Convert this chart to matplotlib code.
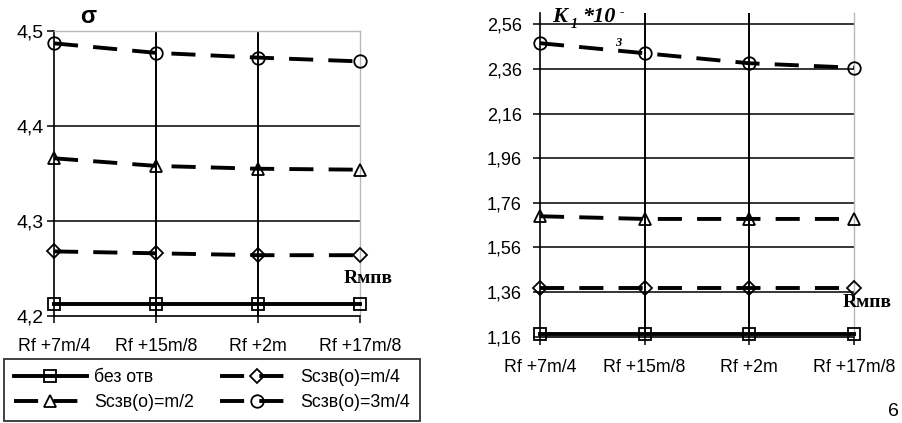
import matplotlib
matplotlib.use('Agg')
import matplotlib.pyplot as plt

# ---------------- data ----------------
categories = ['Rf +7m/4', 'Rf +15m/8', 'Rf +2m', 'Rf +17m/8']
series_labels = ['без отв', 'Sсзв(о)=m/4', 'Sсзв(о)=m/2', 'Sсзв(о)=3m/4']

sigma_bez = [4.213, 4.213, 4.213, 4.213]
sigma_m4 = [4.268, 4.266, 4.264, 4.264]
sigma_m2 = [4.366, 4.358, 4.355, 4.354]
sigma_3m4 = [4.487, 4.477, 4.472, 4.468]

k1_bez = [1.171, 1.171, 1.171, 1.171]
k1_m4 = [1.377, 1.377, 1.377, 1.377]
k1_m2 = [1.700, 1.688, 1.688, 1.688]
k1_3m4 = [2.476, 2.431, 2.386, 2.366]

sigma_ticks = [4.2, 4.3, 4.4, 4.5]
k1_ticks = [1.16, 1.36, 1.56, 1.76, 1.96, 2.16, 2.36, 2.56]

# ---------------- figure ----------------
W, H = 902, 423
fig = plt.figure(figsize=(W / 100, H / 100), dpi=100)
fig.patch.set_facecolor('white')

SANS = 'Liberation Sans'
SERIF = 'Liberation Serif'

def px(x, y):
    return x / W, 1 - y / H

LW = 2.8
DASH = (0, (6.2, 3.9))
styles = [
    dict(ls='-', marker='s', ms=9, lw=LW),
    dict(ls=DASH, marker='D', ms=7, lw=LW),
    dict(ls=DASH, marker='^', ms=9, lw=LW),
    dict(ls=DASH, marker='o', ms=9, lw=LW),
]

def style_axes(ax, ticks, fmt, ylim, top_gray, ylabel_size, ypad, xpad, xtick_len, ytick_len):
    ax.set_xlim(0, 3)
    ax.set_ylim(*ylim)
    ax.set_xticks(range(len(categories)))
    ax.set_xticklabels(categories, fontfamily=SANS, fontsize=12.8)
    ax.set_yticks(ticks)
    ax.set_yticklabels([fmt.format(t).replace('.', ',') for t in ticks],
                       fontfamily=SANS, fontsize=ylabel_size)
    ax.tick_params(axis='y', direction='out', length=ytick_len, width=1.1, pad=ypad, colors='black')
    ax.tick_params(axis='x', direction='out', length=xtick_len, width=1.1, pad=xpad, colors='black')
    for s in ['left', 'bottom']:
        ax.spines[s].set_color('black')
        ax.spines[s].set_linewidth(1.2)
    ax.spines['right'].set_color('#b8b8b8')
    ax.spines['right'].set_linewidth(1.0)
    if top_gray:
        ax.spines['top'].set_color('#b8b8b8')
        ax.spines['top'].set_linewidth(1.0)
    else:
        ax.spines['top'].set_visible(False)
    ax.set_facecolor('white')

def draw_series(ax, series):
    handles = []
    for vals, st, lab in zip(series, styles, series_labels):
        h, = ax.plot(range(len(categories)), vals, color='black', ls=st['ls'], lw=st['lw'],
                     marker=st['marker'], ms=st['ms'], mfc='none', mec='black', mew=1.3,
                     label=lab, zorder=5, clip_on=False)
        handles.append(h)
    return handles

# ---------- left chart: sigma ----------
axL = fig.add_axes([54 / W, 1 - 316 / H, 306 / W, 285 / H])
style_axes(axL, sigma_ticks, '{:.1f}', (4.2, 4.5), True, 14, 2.5, 10.5, 5, 5)
for t in sigma_ticks[1:-1]:
    axL.axhline(t, color='black', lw=1.1, zorder=1)
for x in [1, 2]:
    axL.axvline(x, color='black', lw=1.4, zorder=1)
handles = draw_series(axL, [sigma_bez, sigma_m4, sigma_m2, sigma_3m4])

# ---------- right chart: K1 ----------
axR = fig.add_axes([540 / W, 1 - 336.7 / H, 314 / W, 323.4 / H])
style_axes(axR, k1_ticks, '{:.2f}', (1.16, 2.61), False, 13, 8, 10, 6, 5)
for t in k1_ticks[1:]:
    axR.axhline(t, color='black', lw=1.1, zorder=1)
for x in [1, 2]:
    axR.axvline(x, color='black', lw=1.4, zorder=1)
draw_series(axR, [k1_bez, k1_m4, k1_m2, k1_3m4])

# ---------- annotations ----------
fig.text(*px(88, 23), 'σ', ha='center', va='baseline', fontfamily=SANS,
         fontweight='bold', fontsize=17)
fig.text(*px(368, 283), 'Rмпв', ha='center', va='baseline', fontfamily=SERIF,
         fontweight='bold', fontsize=14)
fig.text(*px(867, 307), 'Rмпв', ha='center', va='baseline', fontfamily=SERIF,
         fontweight='bold', fontsize=14)

fig.text(*px(552, 22), 'K', ha='left', va='baseline', fontfamily=SERIF,
         fontweight='bold', fontstyle='italic', fontsize=16)
fig.text(*px(571, 28), '1', ha='left', va='baseline', fontfamily=SERIF,
         fontweight='bold', fontstyle='italic', fontsize=10)
fig.text(*px(582, 22), '*10', ha='left', va='baseline', fontfamily=SERIF,
         fontweight='bold', fontstyle='italic', fontsize=16)
fig.text(*px(620, 16), '-', ha='left', va='baseline', fontfamily=SERIF,
         fontweight='bold', fontstyle='italic', fontsize=10)
fig.text(*px(615, 46), '3', ha='left', va='baseline', fontfamily=SERIF,
         fontweight='bold', fontstyle='italic', fontsize=9)

fig.text(*px(888, 416), '6', ha='left', va='baseline', fontfamily=SANS, fontsize=14)

# ---------- legend (row-major order as in reference) ----------
order = [0, 2, 1, 3]
leg = fig.legend(handles=[handles[i] for i in order],
                 labels=[series_labels[i] for i in order], ncol=2, loc='upper left',
                 bbox_to_anchor=(4 / W, 0, 416 / W, 1 - 359 / H), mode='expand',
                 prop={'family': SANS, 'size': 12.8}, frameon=True, fancybox=False,
                 numpoints=1, handlelength=4.1, handletextpad=0.4, labelspacing=0.45,
                 borderpad=0.55, borderaxespad=0, columnspacing=1.0)
leg.get_frame().set_edgecolor('black')
leg.get_frame().set_linewidth(1.3)
fig.savefig('out.png', dpi=100, facecolor='white')
